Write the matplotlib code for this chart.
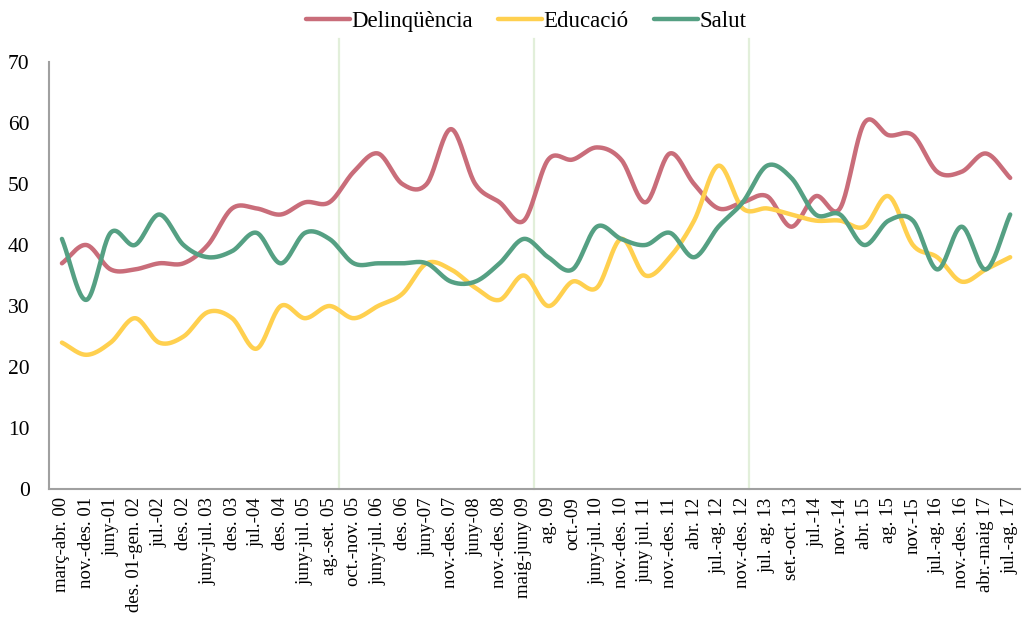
import numpy as np
import matplotlib
matplotlib.use("Agg")
import matplotlib.pyplot as plt

plt.rcParams['font.family'] = ['Liberation Serif', 'DejaVu Serif']

periods = [
    "març-abr. 00", "nov.-des. 01", "juny-01", "des. 01-gen. 02", "jul.-02",
    "des. 02", "juny-jul. 03", "des. 03", "jul.-04", "des. 04",
    "juny-jul. 05", "ag.-set. 05", "oct.-nov. 05", "juny-jul. 06", "des. 06",
    "juny-07", "nov.-des. 07", "juny-08", "nov.-des. 08", "maig-juny 09",
    "ag. 09", "oct.-09", "juny-jul. 10", "nov.-des. 10", "juny jul. 11",
    "nov.-des. 11", "abr. 12", "jul.-ag. 12", "nov.-des. 12", "jul. ag. 13",
    "set.-oct. 13", "jul.-14", "nov.-14", "abr. 15", "ag. 15",
    "nov.-15", "jul.-ag. 16", "nov.-des. 16", "abr.-maig 17", "jul.-ag. 17",
]

delinquencia = [37, 40, 36, 36, 37, 37, 40, 46, 46, 45,
                47, 47, 52, 55, 50, 50, 59, 50, 47, 44,
                54, 54, 56, 54, 47, 55, 50, 46, 47, 48,
                43, 48, 46, 60, 58, 58, 52, 52, 55, 51]

educacio = [24, 22, 24, 28, 24, 25, 29, 28, 23, 30,
            28, 30, 28, 30, 32, 37, 36, 33, 31, 35,
            30, 34, 33, 41, 35, 38, 44, 53, 46, 46,
            45, 44, 44, 43, 48, 40, 38, 34, 36, 38]

salut = [41, 31, 42, 40, 45, 40, 38, 39, 42, 37,
         42, 41, 37, 37, 37, 37, 34, 34, 37, 41,
         38, 36, 43, 41, 40, 42, 38, 43, 47, 53,
         51, 45, 45, 40, 44, 44, 36, 43, 36, 45]

series_names = ["Delinqüència", "Educació", "Salut"]
series_colors = ["#C96D7A", "#FFD04F", "#55A083"]

# marker lines between periods
marker_positions = [11.4, 19.4, 28.25]


def smooth(x, y, n=24, tension=0.5):
    """Catmull-Rom curve through every point."""
    x = np.asarray(x, float)
    y = np.asarray(y, float)
    px = np.concatenate([[2 * x[0] - x[1]], x, [2 * x[-1] - x[-2]]])
    py = np.concatenate([[2 * y[0] - y[1]], y, [2 * y[-1] - y[-2]]])
    xs, ys = [], []
    t = np.linspace(0, 1, n, endpoint=False)
    for i in range(1, len(px) - 2):
        p0x, p1x, p2x, p3x = px[i - 1:i + 3]
        p0y, p1y, p2y, p3y = py[i - 1:i + 3]
        m1x, m2x = tension * (p2x - p0x), tension * (p3x - p1x)
        m1y, m2y = tension * (p2y - p0y), tension * (p3y - p1y)
        h00 = 2 * t**3 - 3 * t**2 + 1
        h10 = t**3 - 2 * t**2 + t
        h01 = -2 * t**3 + 3 * t**2
        h11 = t**3 - t**2
        xs.append(h00 * p1x + h10 * m1x + h01 * p2x + h11 * m2x)
        ys.append(h00 * p1y + h10 * m1y + h01 * p2y + h11 * m2y)
    xs.append([x[-1]])
    ys.append([y[-1]])
    return np.concatenate(xs), np.concatenate(ys)


fig = plt.figure(figsize=(10.24, 6.34), dpi=100)
ax = fig.add_axes([0.0479, 0.2287, 0.9481, 0.6735])

for xm in marker_positions:
    ax.plot([xm, xm], [0, 73.8], color="#E2EFDA", lw=1.6, clip_on=False, zorder=1)

x = np.arange(len(periods))
for name, vals, col in zip(series_names, [delinquencia, educacio, salut], series_colors):
    sx, sy = smooth(x, vals)
    ax.plot(sx, sy, color=col, lw=3.2, label=name, zorder=3, solid_capstyle="round")

ax.set_xlim(-0.53, 39.4)
ax.set_ylim(0, 70)
ax.set_yticks(range(0, 71, 10))
ax.set_xticks(x)
ax.set_xticklabels(periods, rotation=90, fontsize=13.5)
ax.tick_params(axis='y', labelsize=15.5, length=0, pad=14)
ax.tick_params(axis='x', length=0, pad=6)

for s in ["top", "right"]:
    ax.spines[s].set_visible(False)
for s in ["left", "bottom"]:
    ax.spines[s].set_color("#A0A0A0")
    ax.spines[s].set_linewidth(1.5)

fig.legend(loc="center", bbox_to_anchor=(0.514, 0.966), ncol=3, frameon=False,
           fontsize=16.5, handlelength=1.9, handletextpad=0.08, columnspacing=1.1)

fig.savefig("out.png", dpi=100)
